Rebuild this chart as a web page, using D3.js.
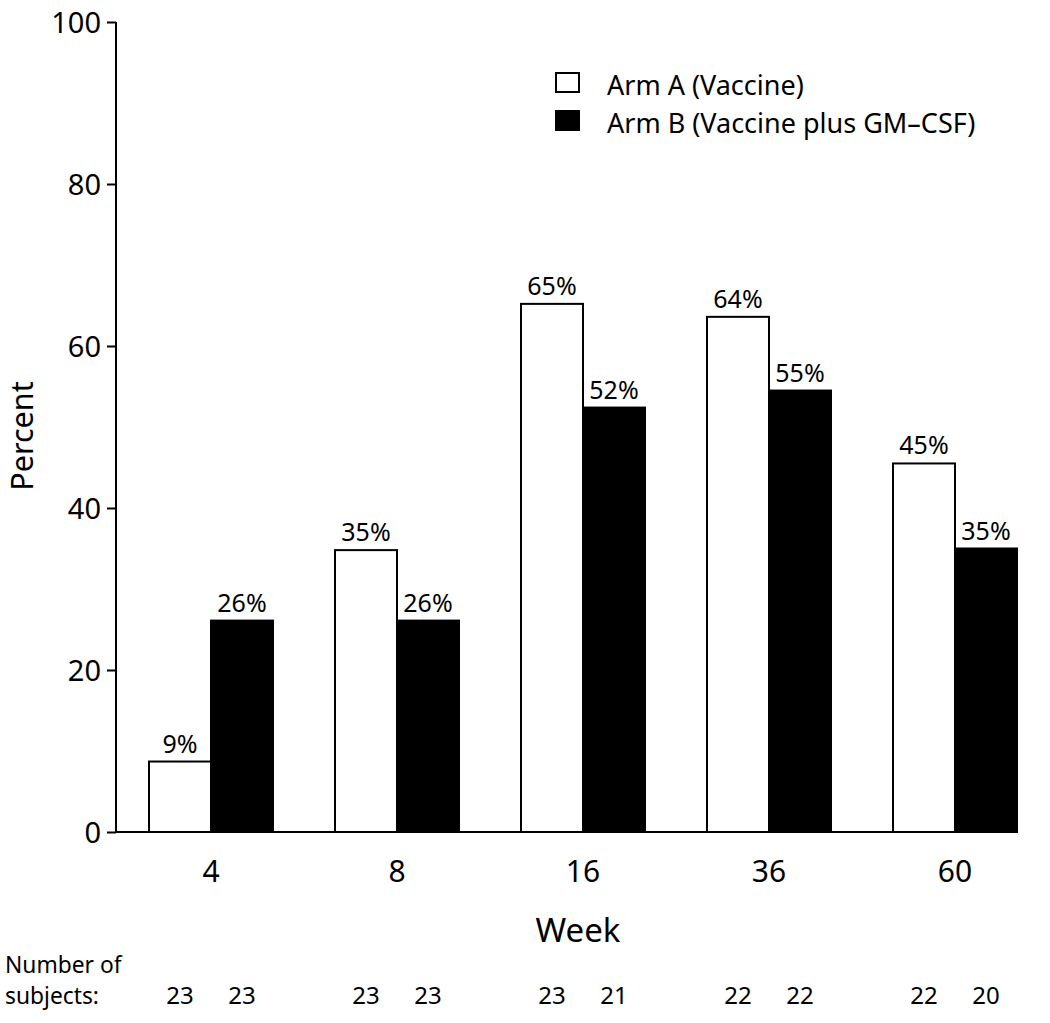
<!DOCTYPE html>
<html><head><meta charset="utf-8">
<script src="https://cdn.jsdelivr.net/npm/d3@7"></script>
<style>body{margin:0;background:#fff}</style>
</head><body>
<script>
const weeks = ["4", "8", "16", "36", "60"];
const armA = [8.7, 34.8, 65.2, 63.6, 45.5];
const armB = [26.1, 26.1, 52.4, 54.5, 35.0];
const labelsA = ["9%", "35%", "65%", "64%", "45%"];
const labelsB = ["26%", "26%", "52%", "55%", "35%"];
const nA = [23, 23, 23, 22, 22];
const nB = [23, 23, 21, 22, 20];
const yTicks = [0, 20, 40, 60, 80, 100];
const seriesNames = ["Arm A (Vaccine)", "Arm B (Vaccine plus GM\u2013CSF)"];
const subjectsLabel = ["Number of", "subjects:"];

const W = 1050, H = 1023;
const svg = d3.select("body").append("svg").attr("width", W).attr("height", H);
const y = d3.scaleLinear().domain([0, 100]).range([832, 22]);
const x = d3.scaleBand().domain(weeks).range([118, 1048]).paddingInner(1/3).paddingOuter(1/6);
const xs = d3.scaleBand().domain([0, 1]).range([0, x.bandwidth()]);

const sans = "'Noto Sans', 'Open Sans', sans-serif";

// y axis
const yAxis = svg.append("g").attr("transform", "translate(116,0)")
  .call(d3.axisLeft(y).tickValues(yTicks).tickSize(9).tickPadding(6));
yAxis.select(".domain").attr("d", `M0,${y(100)}V${y(0)}`).attr("stroke-width", 2);
yAxis.selectAll(".tick line").attr("stroke-width", 2);
yAxis.selectAll("text").attr("font-family", sans).attr("font-size", 29).attr("fill", "#000").attr("dy", "0.36em");

// baseline
svg.append("line").attr("x1", 116).attr("x2", x(weeks[4]) + x.bandwidth())
  .attr("y1", y(0)).attr("y2", y(0)).attr("stroke", "#000").attr("stroke-width", 2);

const groups = svg.selectAll("g.grp").data(weeks).enter().append("g")
  .attr("transform", d => `translate(${x(d)},0)`);

groups.append("rect")
  .attr("x", xs(0)).attr("width", xs.bandwidth())
  .attr("y", (d, i) => y(armA[i])).attr("height", (d, i) => y(0) - y(armA[i]))
  .attr("fill", "#fff").attr("stroke", "#000").attr("stroke-width", 2);
groups.append("rect")
  .attr("x", xs(1)).attr("width", xs.bandwidth())
  .attr("y", (d, i) => y(armB[i])).attr("height", (d, i) => y(0) - y(armB[i]))
  .attr("fill", "#000").attr("stroke", "#000").attr("stroke-width", 2);

groups.append("text").attr("x", xs(0) + xs.bandwidth() / 2).attr("y", (d, i) => y(armA[i]) - 9)
  .attr("text-anchor", "middle").attr("font-family", sans).attr("font-size", 25).text((d, i) => labelsA[i]);
groups.append("text").attr("x", xs(1) + xs.bandwidth() / 2).attr("y", (d, i) => y(armB[i]) - 9)
  .attr("text-anchor", "middle").attr("font-family", sans).attr("font-size", 25).text((d, i) => labelsB[i]);

// x tick labels
groups.append("text").attr("x", x.bandwidth() / 2).attr("y", 882)
  .attr("text-anchor", "middle").attr("font-family", sans).attr("font-size", 30).text(d => d);

// subject counts
groups.append("text").attr("x", xs(0) + xs.bandwidth() / 2).attr("y", 1004)
  .attr("text-anchor", "middle").attr("font-family", sans).attr("font-size", 24).text((d, i) => nA[i]);
groups.append("text").attr("x", xs(1) + xs.bandwidth() / 2).attr("y", 1004)
  .attr("text-anchor", "middle").attr("font-family", sans).attr("font-size", 24).text((d, i) => nB[i]);

const subj = svg.append("text").attr("font-family", sans).attr("font-size", 22.8);
subjectsLabel.forEach((t, i) => {
  subj.append("tspan").attr("x", 5).attr("y", 973 + i * 31).text(t);
});

// axis titles
svg.append("text").attr("x", 578).attr("y", 942).attr("text-anchor", "middle")
  .attr("font-family", sans).attr("font-size", 33).text("Week");
svg.append("text").attr("transform", "translate(33,436) rotate(-90)").attr("text-anchor", "middle")
  .attr("font-family", sans).attr("font-size", 30.5).text("Percent");

// legend
const leg = svg.append("g");
seriesNames.forEach((s, i) => {
  const yy = 73 + i * 38;
  leg.append("rect").attr("x", 556).attr("y", yy).attr("width", 23).attr("height", 19)
    .attr("fill", i ? "#000" : "#fff").attr("stroke", "#000").attr("stroke-width", 2);
  leg.append("text").attr("x", 607).attr("y", yy + 22).attr("font-family", sans).attr("font-size", 27).text(s);
});
</script>
</body></html>
